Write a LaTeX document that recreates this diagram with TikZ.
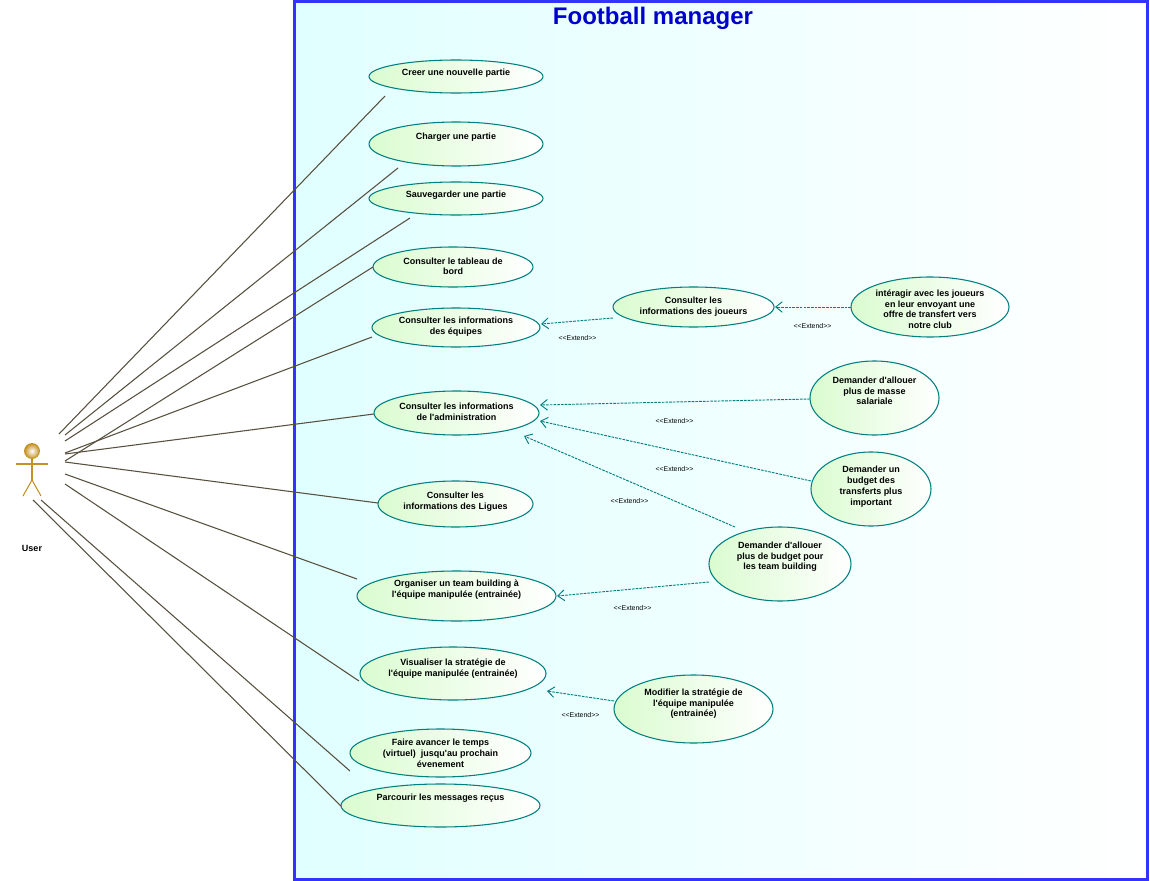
\documentclass[tikz,border=0pt]{standalone}
\usepackage{fontspec}
\setmainfont[Ligatures=TeXOff]{Liberation Sans}
\usepackage{tikz}
\usetikzlibrary{arrows.meta,shapes.geometric}
\definecolor{sysblue}{RGB}{51,51,255}
\definecolor{ttlblue}{RGB}{0,0,204}
\definecolor{syscyan}{RGB}{224,255,255}
\definecolor{ucteal}{RGB}{0,128,128}
\definecolor{ucgreen}{RGB}{218,252,208}
\definecolor{actgold}{RGB}{196,146,36}
\definecolor{assoc}{RGB}{88,80,62}
\tikzset{
  ucase/.style 2 args={ellipse, draw=ucteal, line width=0.8pt, left color=ucgreen, right color=white,
              inner sep=0pt, minimum width=#1*0.75pt, minimum height=#2*0.75pt},
  uctxt/.style={font=\fontsize{6.75}{8.1}\selectfont\bfseries, align=center, inner sep=0pt, text=black,
              yshift=-0.6pt},
  extlab/.style={font=\fontsize{5.2}{6}\selectfont, inner sep=0pt, text=black},
  asc/.style={assoc, line width=0.8pt},
  extarr/.style={-{Straight Barb[length=5pt,width=8pt]}, ucteal, line width=0.7pt, dash pattern=on 2pt off 0.8pt},
  actln/.style={actgold, line width=0.8pt},
}
\begin{document}
\begin{tikzpicture}[x=0.75pt, y=-0.75pt]
  \useasboundingbox (0,0) rectangle (1150,881);
  % system frame
  \node[draw=sysblue, line width=2.25pt, left color=syscyan, right color=white, minimum width=853*0.75pt,
        minimum height=878*0.75pt, inner sep=0pt] (sys) at (721,440.5) {};
  \node[font=\fontsize{18}{20}\selectfont\bfseries, text=ttlblue, inner sep=0pt] (title) at (653,18.5) {Football manager};

  % actor
  \shade[inner color=white, outer color=actgold, draw=actgold, line width=0.6pt] (32,451) circle (7.5);
  \coordinate (neck) at (32,458.5);
  \coordinate (hip) at (32,480);
  \coordinate (armL) at (16,464);
  \coordinate (armR) at (48,464);
  \coordinate (footL) at (23,496);
  \coordinate (footR) at (41,496);
  \draw[actln] (neck) -- (hip);
  \draw[actln] (armL) -- (armR);
  \draw[actln] (footL) -- (hip) -- (footR);
  \node[uctxt] (user) at (32,547.5) {User};

  % use cases
  \node[ucase={174}{33}] (creer) at (456,76.5) {};
  \node[uctxt] (creertxt) at (456,72) {Creer une nouvelle partie};
  \node[ucase={174}{44}] (charger) at (456,144) {};
  \node[uctxt] (chargertxt) at (456,136) {Charger une partie};
  \node[ucase={174}{33}] (sauver) at (456,198.5) {};
  \node[uctxt] (sauvertxt) at (456,194.5) {Sauvegarder une partie};
  \node[ucase={160}{40}] (tableau) at (453,267) {};
  \node[uctxt] (tableautxt) at (453,265.5) {Consulter le tableau de\\bord};
  \node[ucase={168}{39}] (equipes) at (456,327.5) {};
  \node[uctxt] (equipestxt) at (456,326) {Consulter les informations\\des équipes};
  \node[ucase={165}{44}] (admin) at (456.5,413) {};
  \node[uctxt] (admintxt) at (456.5,411) {Consulter les informations\\de l'administration};
  \node[ucase={155}{46}] (ligues) at (455.5,504) {};
  \node[uctxt] (liguestxt) at (455.5,501) {Consulter les\\informations des Ligues};
  \node[ucase={199}{50}] (team) at (456.5,596) {};
  \node[uctxt] (teamtxt) at (456.5,589) {Organiser un team building à\\l'équipe manipulée (entrainée)};
  \node[ucase={186}{53}] (visual) at (453,673.5) {};
  \node[uctxt] (visualtxt) at (453,668) {Visualiser la stratégie de\\l'équipe manipulée (entrainée)};
  \node[ucase={181}{48}] (faire) at (440.5,753) {};
  \node[uctxt] (fairetxt) at (440.5,752.5) {Faire avancer le temps\\(virtuel)\ \ jusqu'au prochain\\évenement};
  \node[ucase={199}{43}] (messages) at (440.5,805.5) {};
  \node[uctxt] (messagestxt) at (440.5,797.5) {Parcourir les messages reçus};
  \node[ucase={161}{40}] (joueurs) at (693.5,307) {};
  \node[uctxt] (joueurstxt) at (693.5,306) {Consulter les\\informations des joueurs};
  \node[ucase={158}{60}] (interagir) at (930,307) {};
  \node[uctxt] (interagirtxt) at (930,308.5) {intéragir avec les joueurs\\en leur envoyant une\\offre de transfert vers\\notre club};
  \node[ucase={129}{74}] (masse) at (874.5,398) {};
  \node[uctxt] (massetxt) at (874.5,390) {Demander d'allouer\\plus de masse\\salariale};
  \node[ucase={120}{74}] (transferts) at (871,489) {};
  \node[uctxt] (transfertstxt) at (871,486) {Demander un\\budget des\\transferts plus\\important};
  \node[ucase={142}{74}] (budget) at (780,564) {};
  \node[uctxt] (budgettxt) at (780,556) {Demander d'allouer\\plus de budget pour\\les team building};
  \node[ucase={159}{68}] (strategie) at (693.5,709) {};
  \node[uctxt] (strategietxt) at (693.5,703) {Modifier la stratégie de\\l'équipe manipulée\\(entrainée)};

  % free ends of the associations
  \coordinate (a1) at (59,434);   \coordinate (b1) at (385,96);
  \coordinate (a2) at (65,435);   \coordinate (b2) at (398,168);
  \coordinate (a3) at (65,441);   \coordinate (b3) at (410,218);
  \coordinate (a4) at (65,461);   \coordinate (b4) at (373,267);
  \coordinate (a5) at (65,453);   \coordinate (b5) at (372,337);
  \coordinate (a6) at (65,454);   \coordinate (b6) at (374,414);
  \coordinate (a7) at (65,462);   \coordinate (b7) at (378,503);
  \coordinate (a8) at (65,474);   \coordinate (b8) at (357,579);
  \coordinate (a9) at (65,484);   \coordinate (b9) at (359,681);
  \coordinate (a10) at (41,500);  \coordinate (b10) at (350,771);
  \coordinate (a11) at (33,500);  \coordinate (b11) at (341,806);
  \foreach \i in {1,...,11}
    \draw[asc] (a\i) -- (b\i);

  % extend arrows
  \coordinate (e1s) at (613,318);  \coordinate (e1t) at (541,324);
  \coordinate (e2s) at (851,307);  \coordinate (e2t) at (775,307);
  \coordinate (e3s) at (810,399);  \coordinate (e3t) at (540,405);
  \coordinate (e4s) at (811,481);  \coordinate (e4t) at (540,421);
  \coordinate (e5s) at (735,527);  \coordinate (e5t) at (524,436);
  \coordinate (e6s) at (709,582);  \coordinate (e6t) at (557,596);
  \coordinate (e7s) at (614,701);  \coordinate (e7t) at (547,691);
  \foreach \i in {1,...,7}
    \draw[extarr] (e\i s) -- (e\i t);
  \node[extlab] (x1) at (577.5,338.5) {<<Extend>>};
  \node[extlab] (x2) at (812.5,326.5) {<<Extend>>};
  \node[extlab] (x3) at (674.5,421.5) {<<Extend>>};
  \node[extlab] (x4) at (674.5,469.5) {<<Extend>>};
  \node[extlab] (x5) at (629.5,501.5) {<<Extend>>};
  \node[extlab] (x6) at (632.5,608.5) {<<Extend>>};
  \node[extlab] (x7) at (580.5,715.5) {<<Extend>>};
\end{tikzpicture}
\end{document}
